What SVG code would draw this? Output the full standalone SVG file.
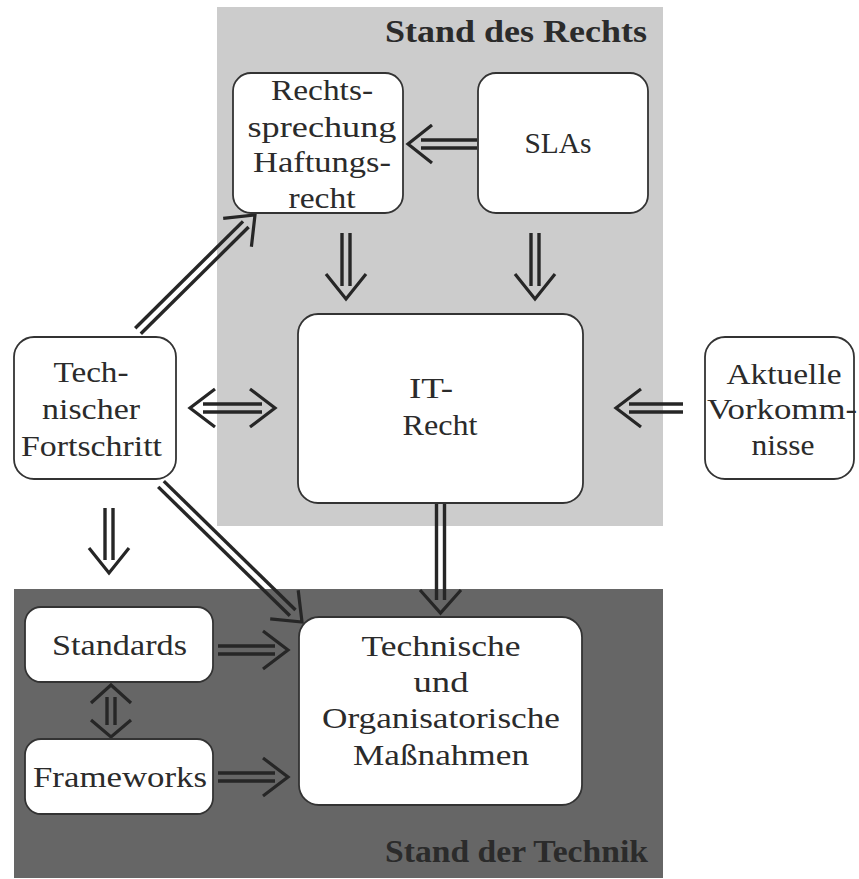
<svg xmlns="http://www.w3.org/2000/svg" width="859" height="879" viewBox="0 0 859 879">
<style>
.bg{fill:#ffffff}
.pl{fill:#cccccc}
.pd{fill:#666666}
.box{fill:#ffffff;stroke:#333333;stroke-width:1.8}
.t{font-family:"Liberation Serif","Times New Roman",serif;font-size:30px;fill:#2b2b2b;text-anchor:middle}
.ttl{font-family:"Liberation Serif","Times New Roman",serif;font-size:31px;font-weight:bold;fill:#2b2b2b;text-anchor:end}
.ln{stroke:#262626;stroke-width:3.4;fill:none}
.hd{stroke:#262626;stroke-width:3.2;fill:none;stroke-linejoin:miter;stroke-linecap:butt}
</style>
<rect class="bg" x="0" y="0" width="859" height="879"/>
<g id="panel-recht">
<rect class="pl" x="217" y="7" width="446" height="519"/>
<text class="ttl" x="647" y="42" textLength="262" lengthAdjust="spacingAndGlyphs">Stand des Rechts</text>
</g>
<g id="panel-technik">
<rect class="pd" x="14" y="589" width="649" height="289"/>
<text class="ttl" x="648" y="862" textLength="263" lengthAdjust="spacingAndGlyphs">Stand der Technik</text>
</g>
<g id="connectors">
<!-- SLAs -> Rechtsprechung -->
<g><line class="ln" x1="421" y1="140" x2="477" y2="140"/><line class="ln" x1="421" y1="148" x2="477" y2="148"/><polyline class="hd" points="432,125 408,144 432,163"/></g>
<!-- Rechtsprechung -> IT-Recht -->
<g><line class="ln" x1="342" y1="233" x2="342" y2="286"/><line class="ln" x1="350" y1="233" x2="350" y2="286"/><polyline class="hd" points="326,274 346,299 366,274"/></g>
<!-- SLAs -> IT-Recht -->
<g><line class="ln" x1="531" y1="233" x2="531" y2="286"/><line class="ln" x1="539" y1="233" x2="539" y2="286"/><polyline class="hd" points="515,274 535,299 555,274"/></g>
<!-- Technischer Fortschritt -> Rechtsprechung -->
<g><line class="ln" x1="135.2" y1="328.2" x2="243" y2="221.4"/><line class="ln" x1="140.8" y1="333.8" x2="248.6" y2="227"/><polyline class="hd" points="223.2,218.4 255,215 251.4,246.8"/></g>
<!-- Technischer Fortschritt <-> IT-Recht -->
<g><line class="ln" x1="203" y1="404" x2="262" y2="404"/><line class="ln" x1="203" y1="412" x2="262" y2="412"/><polyline class="hd" points="215,389 190,408 215,427"/><polyline class="hd" points="250,389 275,408 250,427"/></g>
<!-- Aktuelle Vorkommnisse -> IT-Recht -->
<g><line class="ln" x1="629" y1="404" x2="683" y2="404"/><line class="ln" x1="629" y1="412" x2="683" y2="412"/><polyline class="hd" points="641,389 616,408 641,427"/></g>
<!-- IT-Recht -> Massnahmen -->
<g><line class="ln" x1="436.5" y1="503" x2="436.5" y2="600"/><line class="ln" x1="444.5" y1="503" x2="444.5" y2="600"/><polyline class="hd" points="420,590 440.5,613 461,590"/></g>
<!-- Technischer Fortschritt -> Massnahmen -->
<g><line class="ln" x1="163.8" y1="481.1" x2="295.5" y2="610"/><line class="ln" x1="158.2" y1="486.9" x2="289.9" y2="615.8"/><polyline class="hd" points="270.2,618.8 302,622 298.2,590.2"/></g>
<!-- Technischer Fortschritt -> down -->
<g><line class="ln" x1="105" y1="508" x2="105" y2="560"/><line class="ln" x1="113" y1="508" x2="113" y2="560"/><polyline class="hd" points="89,548 109,573 129,548"/></g>
<!-- Standards -> Massnahmen -->
<g><line class="ln" x1="218" y1="646" x2="275" y2="646"/><line class="ln" x1="218" y1="654" x2="275" y2="654"/><polyline class="hd" points="263,631 288,650 263,669"/></g>
<!-- Frameworks -> Massnahmen -->
<g><line class="ln" x1="218" y1="773" x2="275" y2="773"/><line class="ln" x1="218" y1="781" x2="275" y2="781"/><polyline class="hd" points="263,758 288,777 263,796"/></g>
<!-- Standards <-> Frameworks -->
<g><line class="ln" x1="107" y1="697" x2="107" y2="725"/><line class="ln" x1="115" y1="697" x2="115" y2="725"/><polyline class="hd" points="91,703 111,685 131,703"/><polyline class="hd" points="91,720 111,737 131,720"/></g>
</g>
<g id="rechtsprechung">
<rect class="box" x="233" y="73" width="170" height="140" rx="18"/>
<text class="t" x="322" y="100" textLength="102" lengthAdjust="spacingAndGlyphs">Rechts-</text>
<text class="t" x="322" y="137" textLength="149" lengthAdjust="spacingAndGlyphs">sprechung</text>
<text class="t" x="322" y="172" textLength="138" lengthAdjust="spacingAndGlyphs">Haftungs-</text>
<text class="t" x="322" y="208" textLength="67" lengthAdjust="spacingAndGlyphs">recht</text>
</g>
<g id="slas">
<rect class="box" x="478" y="73" width="170" height="140" rx="18"/>
<text class="t" x="558" y="153" textLength="67" lengthAdjust="spacingAndGlyphs">SLAs</text>
</g>
<g id="it-recht">
<rect class="box" x="298" y="314" width="285" height="189" rx="20"/>
<text class="t" x="431" y="398" textLength="44" lengthAdjust="spacingAndGlyphs">IT-</text>
<text class="t" x="440" y="435" textLength="75" lengthAdjust="spacingAndGlyphs">Recht</text>
</g>
<g id="technischer-fortschritt">
<rect class="box" x="14" y="337" width="162" height="142" rx="20"/>
<text class="t" x="91" y="382" textLength="75" lengthAdjust="spacingAndGlyphs">Tech-</text>
<text class="t" x="91" y="419" textLength="98" lengthAdjust="spacingAndGlyphs">nischer</text>
<text class="t" x="91.5" y="456" textLength="141" lengthAdjust="spacingAndGlyphs">Fortschritt</text>
</g>
<g id="aktuelle-vorkommnisse">
<rect class="box" x="705" y="337" width="149" height="142" rx="20"/>
<text class="t" x="784" y="384" textLength="115" lengthAdjust="spacingAndGlyphs">Aktuelle</text>
<text class="t" x="782" y="419" textLength="150" lengthAdjust="spacingAndGlyphs">Vorkomm-</text>
<text class="t" x="783" y="455" textLength="63" lengthAdjust="spacingAndGlyphs">nisse</text>
</g>
<g id="standards">
<rect class="box" x="25" y="607" width="188" height="75" rx="16"/>
<text class="t" x="119.5" y="655" textLength="135" lengthAdjust="spacingAndGlyphs">Standards</text>
</g>
<g id="frameworks">
<rect class="box" x="25" y="739" width="188" height="75" rx="16"/>
<text class="t" x="120" y="787" textLength="174" lengthAdjust="spacingAndGlyphs">Frameworks</text>
</g>
<g id="massnahmen">
<rect class="box" x="299" y="617" width="283" height="188" rx="20"/>
<text class="t" x="441" y="656" textLength="159" lengthAdjust="spacingAndGlyphs">Technische</text>
<text class="t" x="441" y="692" textLength="55" lengthAdjust="spacingAndGlyphs">und</text>
<text class="t" x="441" y="728" textLength="238" lengthAdjust="spacingAndGlyphs">Organisatorische</text>
<text class="t" x="441" y="765" textLength="176" lengthAdjust="spacingAndGlyphs">Maßnahmen</text>
</g>
</svg>
